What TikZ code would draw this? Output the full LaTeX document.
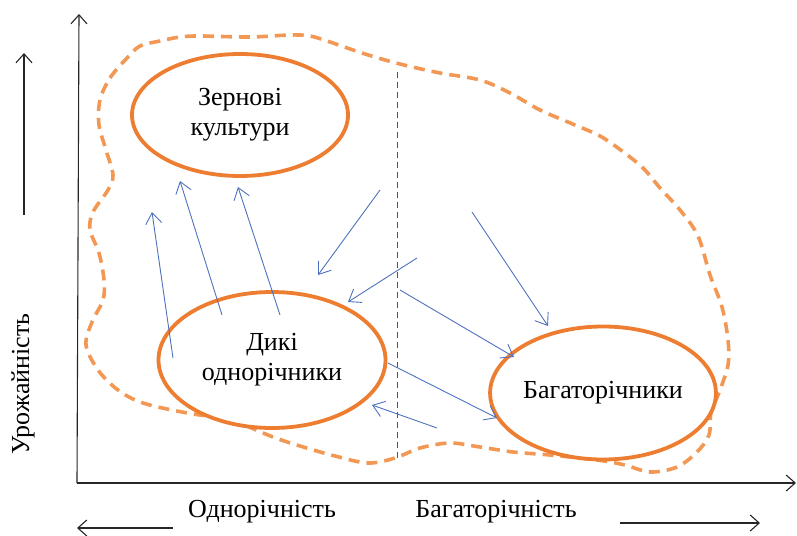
\documentclass[tikz,border=0pt]{standalone}
\usepackage{fontspec}
\setmainfont{Liberation Serif}
\usetikzlibrary{arrows.meta,shapes.geometric}
\definecolor{orsolid}{RGB}{237,125,49}
\definecolor{ordash}{RGB}{242,152,84}
\definecolor{arblue}{RGB}{79,114,189}
\definecolor{dashblue}{RGB}{68,84,120}
\tikzset{
  oval/.style={ellipse, draw=orsolid, line width=3.8pt, fill=white, align=center, inner sep=0pt, font=\fontsize{26}{30}\selectfont},
  bluearrow/.style={draw=arblue, line width=0.9pt, -{Straight Barb[length=11pt,width=16pt,line width=0.9pt]}},
  blackarrow/.style={draw=black!85, line width=1.1pt, -{Straight Barb[length=9pt,width=16pt,line width=1.1pt]}},
  lbl/.style={font=\fontsize{26}{30}\selectfont, inner sep=0pt},
}
\begin{document}
\begin{tikzpicture}[x=1pt,y=-1pt]
\useasboundingbox (0,0) rectangle (797,535);
% dashed boundary
\draw[ordash, line width=3.6pt, dash pattern=on 11pt off 7pt]
  plot[smooth cycle, tension=0.55] coordinates {
  (100,100) (110,78) (127,58) (140,46) (160,41) (180,37) (200,36) (250,37) (290,35) (310,36)
  (330,42) (365,54) (400,64) (440,73) (480,80) (510,93) (540,110) (575,125) (600,136)
  (622,151) (643,168) (660,188) (680,210) (698,236) (710,275) (722,307) (728,340) (728,365)
  (720,390) (711,413) (709,435) (697,452) (677,467) (650,472) (625,465) (597,460) (550,455)
  (513,452) (480,447) (450,443) (420,448) (395,458) (368,463) (335,456) (300,446) (273,437)
  (230,420) (187,413) (143,403) (118,390) (98,370) (86,345) (92,322) (103,300) (104,280)
  (99,253) (90,230) (93,212) (108,190) (113,175) (106,150) (99,125)};
% vertical dashed divider
\coordinate (dtop) at (397,72);
\coordinate (dbot) at (397,462);
\draw[dashblue, line width=0.8pt, dash pattern=on 6pt off 4pt] (dtop) -- (dbot);
% ellipses
\node[oval, minimum width=216pt, minimum height=122pt] (zern) at (240,115) {Зернові\\культури};
\node[oval, minimum width=227pt, minimum height=136pt] (dyki) at (272,360) {Дикі\\однорічники};
\node[oval, minimum width=209pt, minimum height=133pt] (bahat) at (603,393) {Багаторічники};
% blue arrows
\coordinate (g1) at (173,358); \coordinate (g2) at (152,212);
\coordinate (h1) at (222,315); \coordinate (h2) at (180,181);
\coordinate (i1) at (280,315); \coordinate (i2) at (238,187);
\coordinate (a1) at (380,190); \coordinate (a2) at (318,275);
\coordinate (b1) at (417,258); \coordinate (b2) at (348,302);
\coordinate (c1) at (400,290); \coordinate (c2) at (514,357);
\coordinate (d1) at (472,212); \coordinate (d2) at (548,326);
\coordinate (e1) at (388,363); \coordinate (e2) at (497,418);
\coordinate (f1) at (437,428); \coordinate (f2) at (372,405);
\foreach \p in {g,h,i,a,b,c,d,e,f} {\draw[bluearrow] (\p1) -- (\p2);}
% axes
\coordinate (corner) at (77,483);
\coordinate (ytop) at (79,14);
\coordinate (xend) at (796,483);
\draw[blackarrow] (corner) -- (ytop);
\draw[blackarrow] (corner) -- (xend);
% left arrow
\coordinate (ua) at (24,215); \coordinate (ub) at (24,53);
\draw[blackarrow] (ua) -- (ub);
\node[lbl, rotate=90] (uroz) at (23,384) {Урожайність};
% bottom labels and arrows
\node[lbl] (odn) at (262,512) {Однорічність};
\node[lbl] (bag) at (496,512) {Багаторічність};
\coordinate (la) at (173,528); \coordinate (lb) at (77,528);
\draw[blackarrow] (la) -- (lb);
\coordinate (ra) at (620,523); \coordinate (rb) at (760,523);
\draw[blackarrow] (ra) -- (rb);
\end{tikzpicture}
\end{document}
